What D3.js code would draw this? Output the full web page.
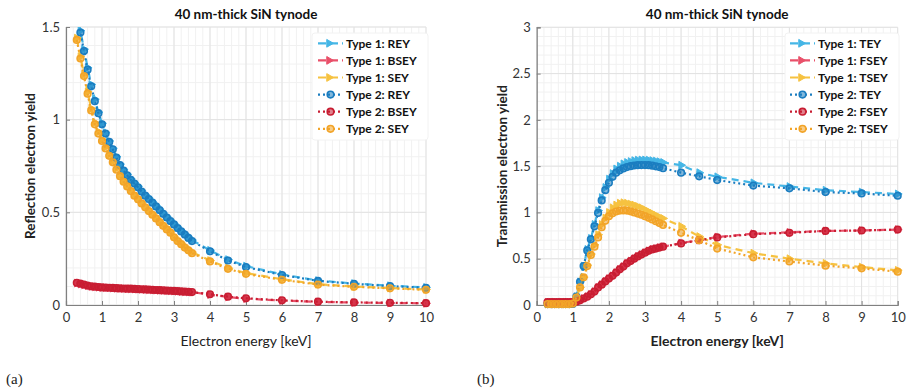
<!DOCTYPE html>
<html><head><meta charset="utf-8">
<script src="https://cdn.jsdelivr.net/npm/d3@7"></script>
<style>
body{margin:0;background:#fff}
svg{display:block}
text{font-family:Lato,"Open Sans",sans-serif}
</style>
</head><body>
<svg id="c" width="907" height="391"></svg>
<script>
// ---------- data ----------
const energy = [0.3,0.4,0.5,0.6,0.7,0.8,0.9,1.0,1.1,1.2,1.3,1.4,1.5,1.6,1.7,1.8,1.9,2.0,2.1,2.2,2.3,2.4,2.5,2.6,2.7,2.8,2.9,3.0,3.1,3.2,3.3,3.4,3.5,4,4.5,5,6,7,8,9,10];

// (a) reflection
const reyType1  = [1.58,1.48,1.38,1.28,1.19,1.11,1.04,0.98,0.93,0.885,0.845,0.80,0.76,0.73,0.705,0.68,0.66,0.64,0.617,0.595,0.576,0.556,0.536,0.516,0.496,0.476,0.457,0.438,0.419,0.401,0.383,0.366,0.35,0.295,0.245,0.21,0.165,0.132,0.116,0.104,0.095];
const bseyType1 = [0.118,0.113,0.108,0.104,0.1,0.098,0.096,0.094,0.093,0.092,0.091,0.09,0.089,0.088,0.087,0.087,0.086,0.085,0.084,0.083,0.082,0.081,0.08,0.079,0.078,0.077,0.076,0.075,0.074,0.072,0.071,0.07,0.069,0.056,0.043,0.034,0.024,0.017,0.013,0.011,0.009];
const seyType1  = [1.44,1.34,1.245,1.15,1.06,0.985,0.935,0.893,0.852,0.812,0.776,0.737,0.70,0.67,0.645,0.62,0.595,0.575,0.553,0.532,0.512,0.492,0.472,0.452,0.432,0.413,0.395,0.37,0.35,0.333,0.315,0.3,0.285,0.24,0.2,0.172,0.139,0.112,0.1,0.092,0.084];
const reyType2  = [1.57,1.47,1.37,1.27,1.18,1.10,1.035,0.975,0.925,0.88,0.84,0.795,0.755,0.725,0.70,0.675,0.655,0.635,0.612,0.59,0.572,0.552,0.532,0.512,0.492,0.472,0.453,0.435,0.415,0.397,0.38,0.362,0.345,0.29,0.24,0.205,0.162,0.13,0.114,0.102,0.093];
const bseyType2 = [0.12,0.115,0.11,0.105,0.101,0.099,0.097,0.095,0.094,0.093,0.092,0.091,0.09,0.089,0.088,0.088,0.087,0.086,0.085,0.084,0.083,0.082,0.081,0.08,0.079,0.078,0.077,0.076,0.075,0.073,0.072,0.071,0.07,0.058,0.045,0.036,0.025,0.018,0.014,0.012,0.01];
const seyType2  = [1.43,1.33,1.235,1.14,1.05,0.975,0.925,0.885,0.845,0.805,0.77,0.73,0.695,0.665,0.64,0.615,0.59,0.57,0.548,0.527,0.507,0.487,0.467,0.447,0.427,0.408,0.39,0.365,0.345,0.328,0.31,0.295,0.28,0.235,0.195,0.168,0.136,0.11,0.098,0.09,0.082];

// (b) transmission
const teyType1  = [0.012,0.012,0.012,0.012,0.012,0.012,0.012,0.015,0.09,0.25,0.42,0.6,0.72,0.87,1.02,1.16,1.27,1.36,1.42,1.47,1.50,1.525,1.54,1.55,1.56,1.565,1.567,1.567,1.565,1.56,1.555,1.548,1.54,1.51,1.43,1.385,1.32,1.28,1.24,1.22,1.2];
const fseyType1 = [0.03,0.03,0.03,0.03,0.03,0.03,0.03,0.03,0.035,0.05,0.07,0.09,0.115,0.145,0.19,0.22,0.255,0.285,0.315,0.35,0.385,0.415,0.45,0.475,0.5,0.525,0.545,0.565,0.585,0.6,0.61,0.62,0.63,0.67,0.70,0.735,0.77,0.785,0.8,0.805,0.815];
const tseyType1 = [0.01,0.01,0.01,0.01,0.01,0.01,0.01,0.015,0.08,0.19,0.3,0.43,0.55,0.65,0.76,0.87,0.94,1.0,1.05,1.08,1.1,1.105,1.1,1.09,1.08,1.065,1.05,1.03,1.01,0.99,0.97,0.95,0.935,0.85,0.74,0.65,0.56,0.5,0.45,0.41,0.375];
const teyType2  = [0.01,0.01,0.01,0.01,0.01,0.01,0.01,0.012,0.09,0.25,0.42,0.59,0.71,0.85,0.995,1.13,1.24,1.32,1.385,1.43,1.455,1.475,1.49,1.5,1.507,1.51,1.512,1.512,1.51,1.505,1.498,1.49,1.478,1.43,1.39,1.35,1.29,1.26,1.22,1.205,1.18];
const fseyType2 = [0.03,0.03,0.03,0.03,0.03,0.03,0.03,0.03,0.035,0.05,0.07,0.09,0.115,0.145,0.19,0.22,0.255,0.285,0.315,0.35,0.385,0.415,0.45,0.475,0.5,0.525,0.545,0.565,0.585,0.6,0.61,0.62,0.63,0.665,0.7,0.73,0.765,0.78,0.8,0.805,0.815];
const tseyType2 = [0.01,0.01,0.01,0.01,0.01,0.01,0.01,0.015,0.08,0.19,0.3,0.42,0.54,0.63,0.73,0.84,0.91,0.96,0.99,1.01,1.02,1.022,1.02,1.012,1.0,0.988,0.975,0.96,0.942,0.925,0.905,0.885,0.865,0.78,0.7,0.61,0.515,0.47,0.425,0.396,0.36];

const xTicks = [0,1,2,3,4,5,6,7,8,9,10];
const reflYTicks = [0,0.5,1,1.5];
const transYTicks = [0,0.5,1,1.5,2,2.5,3];
const reflNames  = ["Type 1: REY","Type 1: BSEY","Type 1: SEY","Type 2: REY","Type 2: BSEY","Type 2: SEY"];
const transNames = ["Type 1: TEY","Type 1: FSEY","Type 1: TSEY","Type 2: TEY","Type 2: FSEY","Type 2: TSEY"];
const chartTitle = "40 nm-thick SiN tynode";
const xLabel = "Electron energy [keV]";
const reflYLabel = "Reflection electron yield";
const transYLabel = "Transmission electron yield";

// ---------- styles ----------
const seriesColors = ["#45b6e6","#e9506a","#f6c240","#1b7dc0","#c81d32","#f2a428"];

const svg = d3.select("#c");

const panels = [
  {id:"a", x0:66, x1:426, y0:305, y1:27, ymax:1.5, yTicks:reflYTicks, ylab:reflYLabel, ylabX:30,
   series:[reyType1,bseyType1,seyType1,reyType2,bseyType2,seyType2], names:reflNames,
   xlabBold:false, legX:318, legBox:[312,33,116,107], tag:"(a)", tagX:6},
  {id:"b", x0:536.7, x1:897.7, y0:305, y1:27.3, ymax:3, yTicks:transYTicks, ylab:transYLabel, ylabX:502,
   series:[teyType1,fseyType1,tseyType1,teyType2,fseyType2,tseyType2], names:transNames,
   xlabBold:true, legX:790, legBox:[785,33,114,107], tag:"(b)", tagX:477}
];

panels.forEach(p => {
  const x = d3.scaleLinear().domain([0,10]).range([p.x0,p.x1]);
  const y = d3.scaleLinear().domain([0,p.ymax]).range([p.y0,p.y1]);
  const g = svg.append("g");

  // minor grid
  const xMinor = d3.range(0,10.001,0.2);
  const yMinor = d3.range(0,p.ymax+0.001,0.1);
  g.append("g").selectAll("line").data(xMinor).join("line")
    .attr("x1",d=>x(d)).attr("x2",d=>x(d)).attr("y1",p.y0).attr("y2",p.y1)
    .attr("stroke","#f1f1f1").attr("stroke-width",1);
  g.append("g").selectAll("line").data(yMinor).join("line")
    .attr("y1",d=>y(d)).attr("y2",d=>y(d)).attr("x1",p.x0).attr("x2",p.x1)
    .attr("stroke","#f1f1f1").attr("stroke-width",1);
  // major grid
  g.append("g").selectAll("line").data(xTicks).join("line")
    .attr("x1",d=>x(d)).attr("x2",d=>x(d)).attr("y1",p.y0).attr("y2",p.y1)
    .attr("stroke","#e2e2e2").attr("stroke-width",1);
  g.append("g").selectAll("line").data(p.yTicks).join("line")
    .attr("y1",d=>y(d)).attr("y2",d=>y(d)).attr("x1",p.x0).attr("x2",p.x1)
    .attr("stroke","#e2e2e2").attr("stroke-width",1);

  // axes
  const xa = g.append("g").attr("transform",`translate(0,${p.y0})`)
    .call(d3.axisBottom(x).tickValues(xTicks).tickSize(-4).tickPadding(8).tickFormat(d3.format("d")));
  const ya = g.append("g").attr("transform",`translate(${p.x0},0)`)
    .call(d3.axisLeft(y).tickValues(p.yTicks).tickSize(-4).tickPadding(6).tickFormat(d=>String(d)));
  [xa,ya].forEach(a=>{
    a.select(".domain").attr("stroke","#808080").attr("stroke-width",1.2);
    a.selectAll(".tick line").attr("stroke","#808080");
    a.selectAll(".tick text").attr("fill","#333").style("font-size","13px").style("font-family","Lato, sans-serif");
  });

  // clip
  svg.append("clipPath").attr("id","clip"+p.id).append("rect")
    .attr("x",p.x0).attr("y",p.y1).attr("width",p.x1-p.x0+6).attr("height",p.y0-p.y1+4);
  const plot = g.append("g").attr("clip-path",`url(#clip${p.id})`);

  const line = d3.line().x((d,i)=>x(energy[i])).y(d=>y(d));
  const tri = d3.symbol().type(d3.symbolTriangle).size(26);

  p.series.forEach((vals,k)=>{
    const col = seriesColors[k];
    const type2 = k>=3;
    plot.append("path").datum(vals).attr("d",line)
      .attr("fill","none").attr("stroke",col).attr("stroke-width",2.2)
      .attr("stroke-dasharray", type2 ? "2,3" : "7,5");
    const mk = plot.append("g");
    if(type2){
      mk.selectAll("circle").data(vals).join("circle")
        .attr("cx",(d,i)=>x(energy[i])).attr("cy",d=>y(d)).attr("r",3.3)
        .attr("fill",col).attr("fill-opacity",0.55).attr("stroke",col).attr("stroke-width",1.6);
    } else {
      mk.selectAll("path").data(vals).join("path")
        .attr("d",tri)
        .attr("transform",(d,i)=>`translate(${x(energy[i])},${y(d)}) rotate(90)`)
        .attr("fill",col).attr("stroke",col).attr("stroke-width",1);
    }
  });

  // legend
  const [bx,by,bw,bh] = p.legBox;
  g.append("rect").attr("x",bx).attr("y",by).attr("width",bw).attr("height",bh)
    .attr("fill","#fff").attr("stroke","#f2f2f2").attr("rx",3);
  p.names.forEach((nm,k)=>{
    const yy = 43.3 + k*17.1;
    const col = seriesColors[k];
    const type2 = k>=3;
    const lg = g.append("g");
    lg.append("line").attr("x1",p.legX).attr("x2",p.legX+25).attr("y1",yy).attr("y2",yy)
      .attr("stroke",col).attr("stroke-width",2.2).attr("stroke-dasharray", type2 ? "2,3" : "8,4");
    if(type2){
      lg.append("circle").attr("cx",p.legX+12.5).attr("cy",yy).attr("r",3.3)
        .attr("fill",col).attr("fill-opacity",0.55).attr("stroke",col).attr("stroke-width",1.6);
    } else {
      lg.append("path").attr("d",tri).attr("transform",`translate(${p.legX+11},${yy}) rotate(90)`)
        .attr("fill",col).attr("stroke",col);
    }
    lg.append("text").attr("x",p.legX+28).attr("y",yy).attr("dy","0.35em")
      .style("font-size","12px").style("font-weight","bold").attr("fill","#111").text(nm);
  });

  // titles and labels
  const cx = (p.x0+p.x1)/2;
  svg.append("text").attr("x",cx).attr("y",19).attr("text-anchor","middle")
    .style("font-size","13.5px").style("font-weight","bold").attr("fill","#111").text(chartTitle);
  svg.append("text").attr("x",cx).attr("y",346).attr("text-anchor","middle")
    .style("font-size","14px").style("font-weight",p.xlabBold?"bold":"normal").attr("fill","#222").text(xLabel);
  svg.append("text").attr("transform",`translate(${p.ylabX},${(p.y0+p.y1)/2}) rotate(-90)`)
    .attr("text-anchor","middle").attr("dy","0.35em")
    .style("font-size","13.5px").style("font-weight","bold").attr("fill","#222").text(p.ylab);
  svg.append("text").attr("x",p.tagX).attr("y",384)
    .style("font-family","'Liberation Serif','DejaVu Serif',serif").style("font-size","15px")
    .attr("fill","#222").text(p.tag);
});
</script>
</body></html>
